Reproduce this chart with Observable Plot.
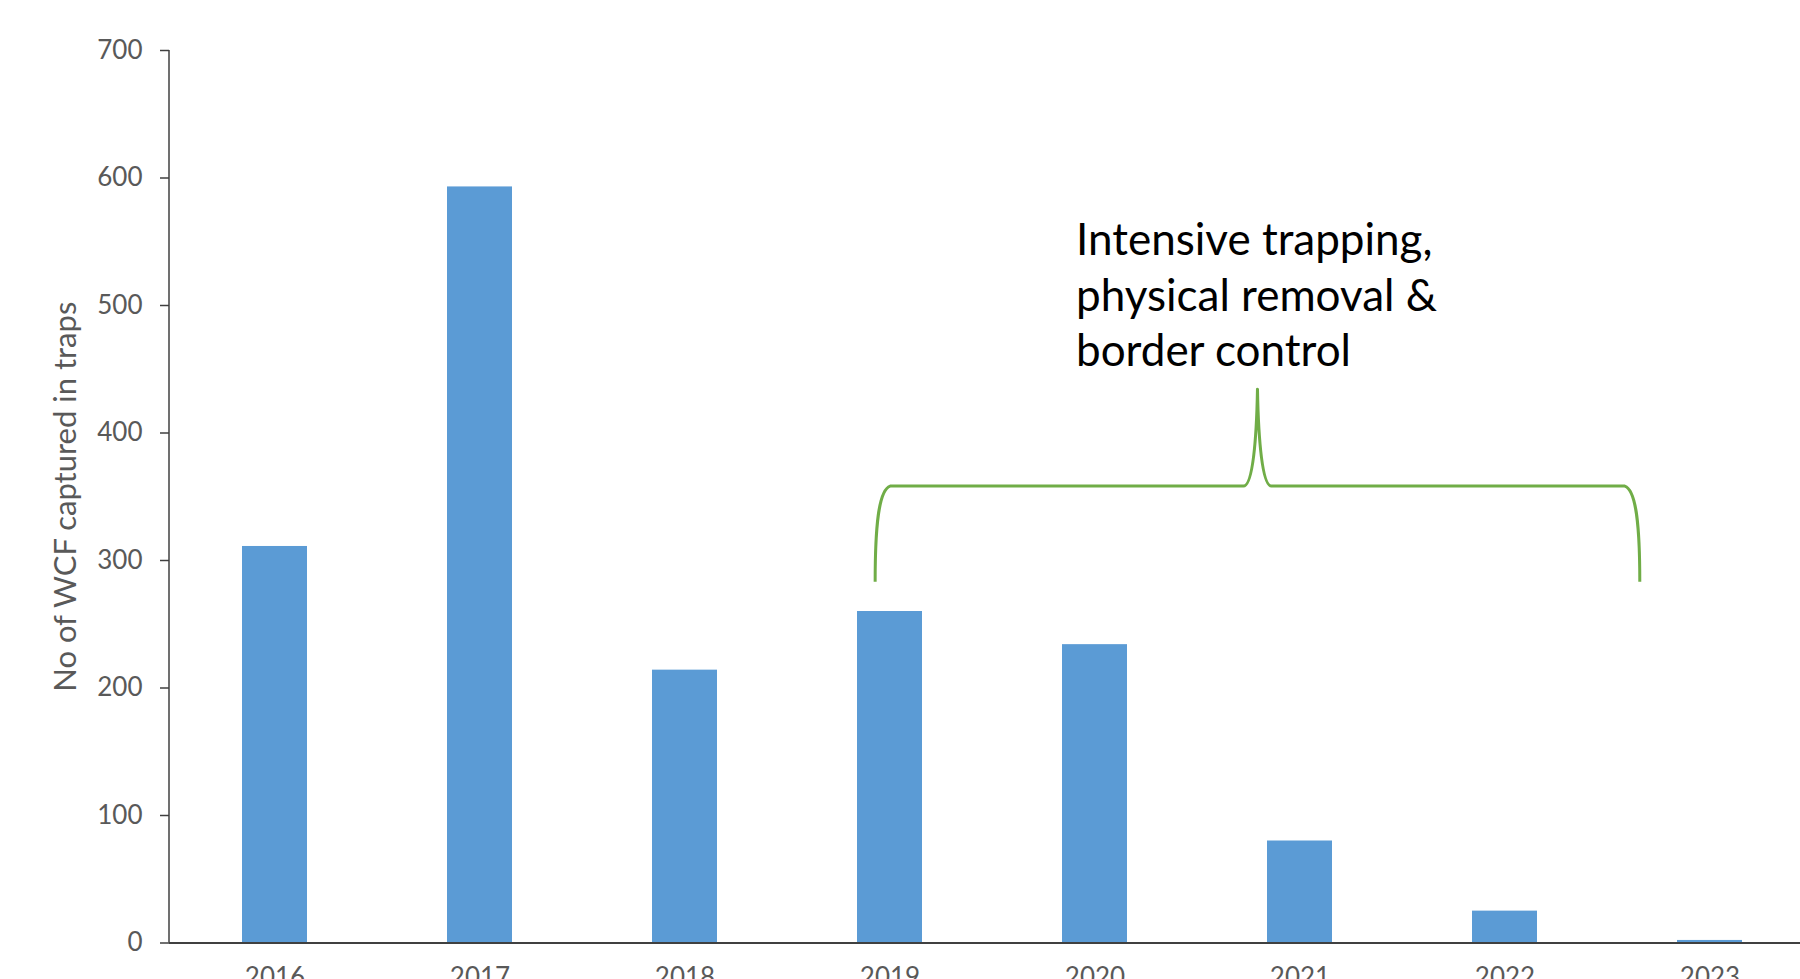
<!DOCTYPE html>
<html>
<head>
<meta charset="utf-8">
<script src="https://cdn.jsdelivr.net/npm/d3@7"></script>
<script src="https://cdn.jsdelivr.net/npm/@observablehq/plot@0.6"></script>
<style>
  html, body { margin: 0; padding: 0; background: #fff; overflow: hidden; }
  #chart svg { display: block; }
</style>
</head>
<body>
<div id="chart"></div>
<script>
// ---- data ----
const years = ["2016", "2017", "2018", "2019", "2020", "2021", "2022", "2023"];
const counts = [311, 593, 214, 260, 234, 80, 25, 2];
const yTicks = [0, 100, 200, 300, 400, 500, 600, 700];
const yTitle = "No of WCF captured in traps";
const annotationLines = ["Intensive trapping,", "physical removal &", "border control"];
const annotationAnchor = ["2020", 571];          // [year band, value]
const braceYears = [2018.93, 2022.66];             // fractional year span of the brace
const braceValues = [283, 358, 434];               // ends, bar, peak (data units)

const data = years.map((year, i) => ({year, count: counts[i]}));

const BAR = "#5B9BD5";
const GREEN = "#70AD47";
const AXIS = "#404040";
const LABEL = "#595959";

function braceMark(index, scales, values, dimensions) {
  const {x, y} = scales;
  const bw = x.bandwidth ? x.bandwidth() : 0;
  const step = x(years[1]) - x(years[0]);
  const cx = v => {
    const i = Math.floor(v);
    return x(String(i)) + bw / 2 + (v - i) * step;
  };
  const L = cx(braceYears[0]), R = cx(braceYears[1]);
  const M = (L + R) / 2;
  const yb = y(braceValues[0]), yh = y(braceValues[1]), yp = y(braceValues[2]);
  const h = yb - yh;
  const p = d3.path();
  p.moveTo(L, yb);
  p.bezierCurveTo(L, yb - h * 0.55, L + 3, yh + 4, L + 15, yh);
  p.lineTo(M - 14, yh);
  p.bezierCurveTo(M - 5, yh, M - 1, yh - (yh - yp) * 0.45, M, yp);
  p.bezierCurveTo(M + 1, yh - (yh - yp) * 0.45, M + 5, yh, M + 14, yh);
  p.lineTo(R - 15, yh);
  p.bezierCurveTo(R - 3, yh + 4, R, yb - h * 0.55, R, yb);
  const g = d3.create("svg:g");
  // y axis line
  g.append("line")
    .attr("x1", dimensions.marginLeft).attr("x2", dimensions.marginLeft)
    .attr("y1", y(yTicks[0])).attr("y2", y(yTicks[yTicks.length - 1]))
    .attr("stroke", AXIS).attr("stroke-width", 1.5);
  g.append("path")
    .attr("d", p.toString())
    .attr("fill", "none")
    .attr("stroke", GREEN)
    .attr("stroke-width", 3)
    .attr("stroke-linejoin", "round")
    .attr("stroke-linecap", "butt");
  return g.node();
}

const chart = Plot.plot({
  width: 1816,
  height: 1000,
  marginLeft: 169,
  marginRight: 2,
  marginTop: 50,
  marginBottom: 57.5,
  style: {fontFamily: "Lato", fontSize: "26px", color: LABEL, background: "#fff", maxWidth: "none", overflow: "visible"},
  x: {domain: years, paddingInner: 0.684, paddingOuter: 0.342, label: null, tickSize: 0, tickPadding: 25},
  y: {domain: [0, 700], ticks: yTicks, label: null, tickSize: 9, tickPadding: 18},
  marks: [
    Plot.barY(data, {x: "year", y: "count", fill: BAR}),
    Plot.ruleY([0], {stroke: AXIS, strokeWidth: 2}),
    Plot.axisY({ticks: yTicks, tickSize: 9, tickPadding: 18, stroke: AXIS, strokeWidth: 1.5, fill: LABEL, label: null, fontSize: 26}),
    Plot.axisX({tickSize: 0, tickPadding: 25, fill: LABEL, label: null, fontSize: 26}),
    Plot.text([yTitle], {
      frameAnchor: "left", dx: -103, rotate: -90, text: d => d,
      fill: LABEL, fontSize: 31, textAnchor: "middle", lineAnchor: "middle"
    }),
    Plot.text([annotationLines.join("\n")], {
      x: () => annotationAnchor[0], y: () => annotationAnchor[1], text: d => d,
      textAnchor: "start", lineAnchor: "top", lineHeight: 1.27,
      fontSize: 44, dx: -19, fill: "#000"
    }),
    braceMark
  ]
});
chart.style.maxWidth = "none";
document.getElementById("chart").append(chart);
</script>
</body>
</html>
